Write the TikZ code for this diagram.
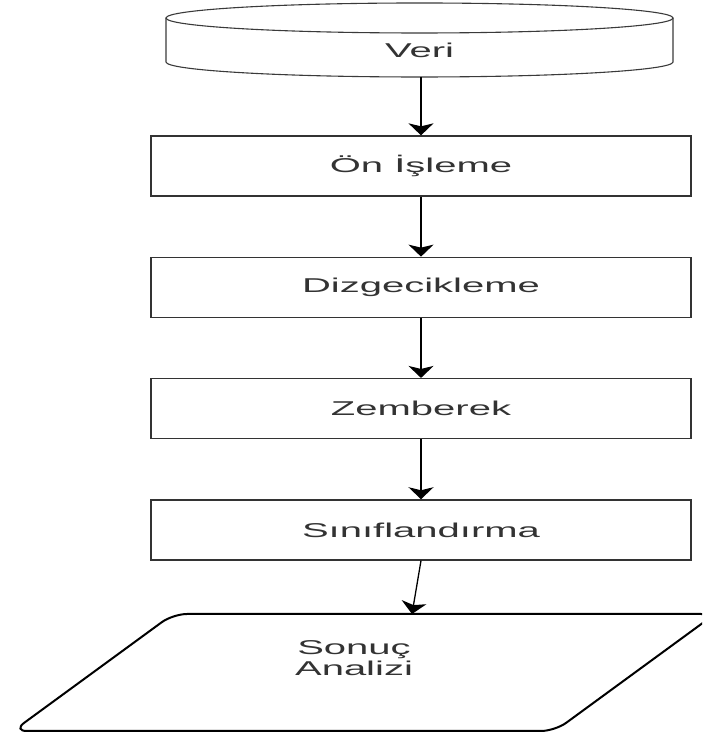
\documentclass[tikz,border=0pt]{standalone}
\usepackage{fontspec}
\setmainfont{Liberation Sans}
\usepackage{graphicx}
\usepackage{tikz}
\usetikzlibrary{positioning,arrows.meta}
\usepackage{xcolor}
\definecolor{boxline}{HTML}{333333}
\definecolor{drumline}{HTML}{3A3A3A}
\definecolor{labeltext}{HTML}{333333}
\newcommand{\wide}[1]{\scalebox{2}[1]{#1}}

\begin{document}
\begin{tikzpicture}[x=1pt, y=1pt,
      every node/.style={font=\fontsize{20}{21}\selectfont, text=labeltext},
      stage/.style={
        draw=boxline, line width=1.3pt,
        minimum width=540pt, minimum height=60pt,
        inner sep=0pt
      },
      flow/.style={
        draw=black, line width=1.3pt,
        -{Stealth[length=12pt, width=25pt, inset=3pt]}
      }
    ]
      \clip (0,0) rectangle (702,738);
      \draw[drumline, line width=1.1pt] (166,720) -- (166,676)
        arc[start angle=180, end angle=360, x radius=253.5, y radius=15] -- (673,720);
      \draw[drumline, line width=1.1pt] (419.5,720) ellipse[x radius=253.5, y radius=15];
      \node (veri) at (419.5,688) {\wide{Veri}};
      \coordinate (veribot) at (421,661);

      \node[stage] (onisleme) at (421,572) {\wide{Ön İşleme}};
      \node[stage, below=60pt of onisleme] (dizgecik) {\wide{Dizgecikleme}};
      \node[stage, below=60pt of dizgecik] (zemberek) {\wide{Zemberek}};
      \node[stage, below=60pt of zemberek] (sinif) {\wide{Sınıflandırma}};

      \draw[rounded corners=14pt, line width=2pt]
        (284,7) -- (555,7) -- (715,124) -- (173,124) -- (13,7) -- cycle;
      \node[align=center] (sonuc) at (354,80) {\wide{Sonuç}\\\wide{Analizi}};
      \coordinate (sonuctop) at (412,124);

      \draw[flow] (veribot) -- (onisleme);
      \draw[flow] (onisleme) -- (dizgecik);
      \draw[flow] (dizgecik) -- (zemberek);
      \draw[flow] (zemberek) -- (sinif);
      \draw[flow] (sinif.south) -- (sonuctop);
    \end{tikzpicture}
\end{document}
